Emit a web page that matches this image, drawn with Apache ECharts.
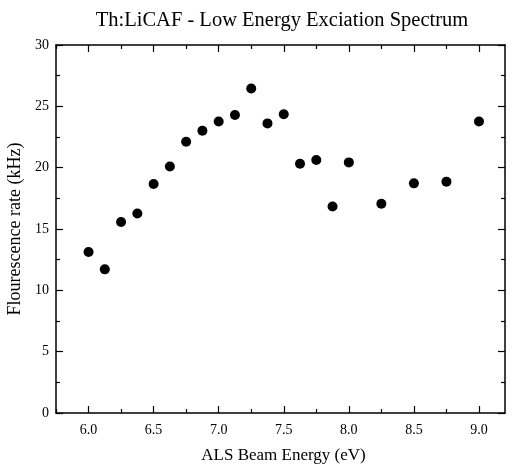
<!DOCTYPE html>
<html>
<head>
<meta charset="utf-8">
<script src="https://cdn.jsdelivr.net/npm/echarts@6/dist/echarts.min.js"></script>
<style>html,body{margin:0;padding:0;background:#fff;}#c{width:512px;height:469px;}</style>
</head>
<body>
<div id="c"></div>
<script>
const energies = [6.0, 6.125, 6.25, 6.375, 6.5, 6.625, 6.75, 6.875, 7.0, 7.125, 7.25, 7.375, 7.5, 7.625, 7.75, 7.875, 8.0, 8.25, 8.5, 8.75, 9.0];
const rates = [13.12, 11.71, 15.57, 16.27, 18.67, 20.1, 22.12, 23.01, 23.77, 24.29, 26.46, 23.61, 24.35, 20.32, 20.62, 16.84, 20.43, 17.06, 18.72, 18.86, 23.77];
const xMajorTicks = [6.0, 6.5, 7.0, 7.5, 8.0, 8.5, 9.0];
const xMinorTicks = [5.75, 6.25, 6.75, 7.25, 7.75, 8.25, 8.75];
const titleText = 'Th:LiCAF - Low Energy Exciation Spectrum';
const xName = 'ALS Beam Energy (eV)';
const yName = 'Flourescence rate (kHz)';

const font = 'Liberation Serif';
const lineStyle = {color: '#000', width: 1.5};
function xAx(pos, ticks, len, show, labels, name) {
  return {
    type: 'value', position: pos, min: 5.75, max: 9.2,
    axisLine: {show: show, onZero: false, lineStyle: lineStyle},
    axisTick: {show: true, inside: true, length: len, customValues: ticks, lineStyle: {color: '#000', width: 1.2}},
    axisLabel: labels ? {show: true, customValues: xMajorTicks, formatter: v => v.toFixed(1), fontFamily: font, fontSize: 14, color: '#000', margin: 10} : {show: false},
    splitLine: {show: false},
    name: name || '', nameLocation: 'middle', nameGap: 34,
    nameTextStyle: {fontFamily: font, fontSize: 17, color: '#000', padding: [0, 0, 0, 6]}
  };
}
function yAx(pos, labels, name) {
  return {
    type: 'value', position: pos, min: 0, max: 30, interval: 5,
    axisLine: {show: true, onZero: false, lineStyle: lineStyle},
    axisTick: {show: true, inside: true, length: 7, lineStyle: {color: '#000', width: 1.2}},
    minorTick: {show: true, splitNumber: 2, length: 4, lineStyle: {color: '#000', width: 1.2}},
    axisLabel: labels ? {show: true, fontFamily: font, fontSize: 14, color: '#000', margin: 7} : {show: false},
    splitLine: {show: false},
    name: name || '', nameLocation: 'middle', nameGap: 31,
    nameTextStyle: {fontFamily: font, fontSize: 18, color: '#000'}
  };
}
const chart = echarts.init(document.getElementById('c'));
chart.setOption({
  animation: false,
  backgroundColor: '#fff',
  title: {text: titleText, left: 277, top: 5, textAlign: 'center',
    textStyle: {fontFamily: font, fontSize: 20.5, fontWeight: 'normal', color: '#000'}},
  grid: {left: 56, right: 7, top: 45, bottom: 56, containLabel: false, outerBoundsMode: 'none'},
  xAxis: [
    xAx('bottom', xMajorTicks, 7, true, true, xName),
    xAx('bottom', xMinorTicks, 4, false, false),
    xAx('top', xMajorTicks, 7, true, false),
    xAx('top', xMinorTicks, 4, false, false)
  ],
  yAxis: [yAx('left', true, yName), yAx('right', false)],
  series: [{
    type: 'scatter', xAxisIndex: 0, yAxisIndex: 0,
    symbol: 'circle', symbolSize: 10,
    itemStyle: {color: '#000', opacity: 1},
    data: energies.map((e, i) => [e, rates[i]])
  }]
});
</script>
</body>
</html>
